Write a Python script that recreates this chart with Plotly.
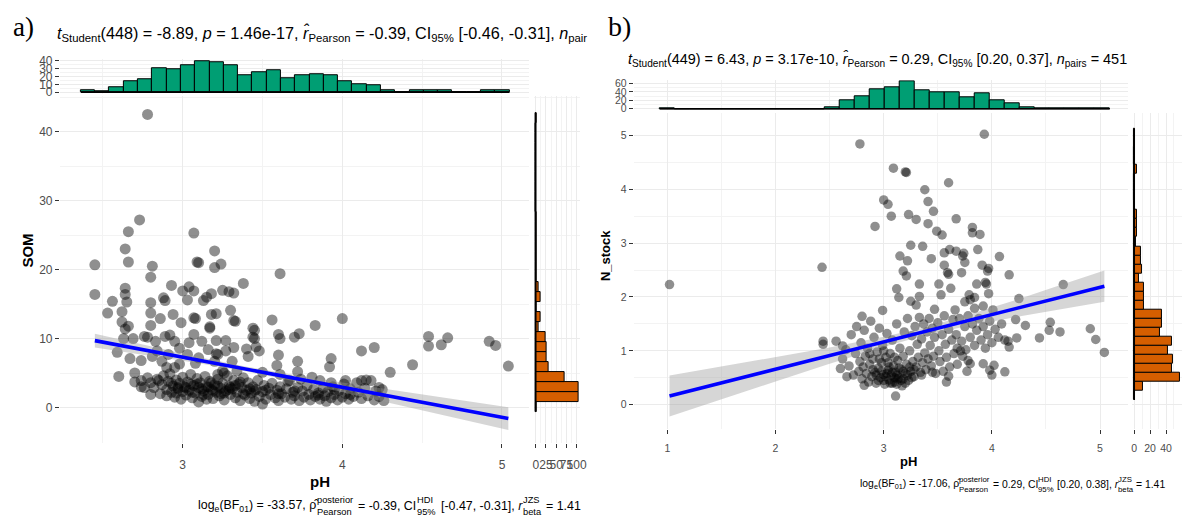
import plotly.graph_objects as go

W, H = 1191, 529
FONT = "Liberation Sans, Arial, sans-serif"
SERIF = "Liberation Serif, Times New Roman, serif"

# ---------------- panel a data (pH vs SOM) ----------------
A_POINTS = [
    (2.78, 42.5), (2.73, 27.2), (2.66, 25.5), (3.07, 25.3), (2.64, 23.0), (3.20, 22.7), (2.66, 21.1), (3.09, 21.1),
    (3.10, 21.0), (2.45, 20.7), (2.81, 20.5), (3.24, 20.8), (3.20, 20.3), (2.80, 18.9), (3.61, 19.4), (2.93, 17.7),
    (3.38, 18.0), (2.64, 17.3), (3.04, 17.5), (3.00, 16.9), (3.07, 16.9), (3.25, 17.0), (3.29, 16.8), (3.32, 16.6),
    (2.45, 16.4), (2.64, 16.4), (3.18, 16.5), (2.88, 15.9), (2.89, 15.5), (3.15, 16.0), (3.03, 15.6), (3.13, 15.5),
    (2.56, 15.4), (2.65, 15.3), (2.80, 15.2), (2.53, 13.7), (2.62, 13.9), (2.80, 13.7), (2.94, 13.5), (3.18, 13.5),
    (3.21, 13.6), (3.30, 14.1), (2.86, 12.9), (3.08, 12.9), (3.07, 13.0), (3.32, 12.6), (3.33, 12.5), (3.56, 12.7),
    (4.00, 12.9), (2.62, 12.4), (2.99, 12.3), (2.80, 11.9), (2.66, 11.8), (3.83, 11.9), (3.17, 11.5), (3.17, 11.7),
    (2.64, 11.4), (3.44, 11.5), (3.45, 11.2), (2.63, 10.0), (2.69, 10.0), (2.76, 10.3), (2.78, 10.2), (2.89, 10.3),
    (2.92, 10.5), (3.07, 10.6), (3.60, 10.6), (3.61, 10.0), (3.73, 10.7), (3.70, 10.2), (3.44, 10.2), (3.45, 10.0),
    (4.54, 10.3), (4.66, 10.1), (4.92, 9.6), (4.96, 9.0), (4.54, 8.9), (4.62, 9.1), (4.20, 8.7), (4.12, 8.2),
    (3.93, 7.1), (3.92, 5.9), (4.44, 6.2), (4.30, 5.1), (5.04, 6.0), (3.60, 7.6), (3.59, 6.1), (3.72, 6.7),
    (3.72, 5.2), (4.12, 3.9), (4.15, 4.0), (4.23, 2.9), (2.59, 8.0), (2.67, 7.1), (2.60, 4.5), (2.70, 5.0),
    (2.70, 3.7), (2.74, 3.9), (2.76, 2.9), (2.74, 6.8), (2.83, 9.6), (2.95, 9.6), (2.98, 8.6), (3.04, 9.4),
    (3.12, 9.6), (3.21, 9.7), (3.27, 9.7), (3.32, 8.7), (3.40, 8.5), (3.48, 8.2), (3.46, 8.8), (3.27, 8.2),
    (3.16, 8.4), (3.21, 7.8), (3.22, 7.7), (3.31, 6.7), (3.41, 7.4), (2.91, 7.7), (2.84, 8.2), (2.81, 7.4),
    (2.87, 6.7), (3.03, 7.7), (3.10, 7.2), (3.20, 6.7), (3.08, 6.4), (2.98, 6.3), (2.90, 5.8), (2.95, 5.8),
    (3.25, 5.3), (3.26, 5.0), (3.22, 4.8), (3.34, 5.3), (3.50, 5.1), (3.61, 4.8), (3.67, 3.9), (3.74, 4.1),
    (3.81, 4.4), (3.86, 3.9), (3.93, 3.6), (4.02, 3.9),
    # dense cluster
    (2.78, 4.3), (2.80, 3.6), (2.82, 2.9), (2.84, 4.1), (2.86, 2.0), (2.87, 3.3), (2.88, 4.6), (2.90, 1.7),
    (2.90, 2.6), (2.91, 3.8), (2.92, 4.9), (2.93, 2.2), (2.94, 3.1), (2.95, 1.5), (2.96, 4.0), (2.97, 2.7),
    (2.98, 3.5), (2.99, 1.2), (3.00, 2.3), (3.00, 4.4), (3.01, 3.0), (3.02, 1.8), (3.03, 3.7), (3.04, 2.5),
    (3.05, 4.8), (3.06, 1.4), (3.07, 3.2), (3.08, 2.1), (3.09, 4.2), (3.10, 0.8), (3.10, 2.9), (3.11, 3.6),
    (3.12, 1.6), (3.13, 2.4), (3.14, 4.5), (3.15, 3.0), (3.16, 1.9), (3.17, 3.8), (3.18, 2.6), (3.19, 1.3),
    (3.20, 3.3), (3.21, 2.2), (3.22, 4.1), (3.23, 1.7), (3.24, 2.8), (3.25, 3.5), (3.26, 1.1), (3.27, 2.4),
    (3.28, 4.6), (3.29, 3.1), (3.30, 1.9), (3.31, 2.7), (3.32, 3.9), (3.33, 1.4), (3.34, 2.2), (3.35, 3.4),
    (3.36, 1.0), (3.37, 2.9), (3.38, 4.3), (3.39, 1.8), (3.40, 2.5), (3.41, 3.6), (3.42, 1.3), (3.43, 2.1),
    (3.44, 3.0), (3.45, 0.9), (3.46, 2.6), (3.47, 3.9), (3.48, 1.6), (3.50, 0.5), (3.50, 2.3), (3.51, 3.2),
    (3.52, 1.2), (3.54, 2.8), (3.55, 1.9), (3.56, 3.5), (3.58, 1.4), (3.59, 2.5), (3.60, 1.0), (3.61, 3.0),
    (3.62, 2.0), (3.64, 1.5), (3.65, 2.7), (3.66, 3.8), (3.68, 1.2), (3.69, 2.2), (3.70, 1.7), (3.72, 2.9),
    (3.73, 1.0), (3.75, 2.4), (3.76, 1.5), (3.78, 3.2), (3.79, 1.9), (3.80, 1.1), (3.82, 2.6), (3.83, 1.6),
    (3.85, 2.1), (3.86, 1.2), (3.88, 2.8), (3.89, 1.7), (3.90, 0.9), (3.91, 2.3), (3.93, 1.4), (3.94, 3.0),
    (3.95, 1.9), (3.97, 1.1), (3.98, 2.5), (4.00, 1.5), (4.01, 3.4), (4.02, 2.0), (4.04, 1.2), (4.05, 2.7),
    (4.07, 1.6), (4.09, 3.6), (4.10, 2.2), (4.12, 1.3), (4.14, 2.8), (4.16, 1.7), (4.18, 3.9), (4.20, 1.1),
    (4.21, 2.4), (4.23, 1.6), (4.25, 2.6), (4.26, 1.0), (2.74, 3.0), (2.80, 1.9), (2.85, 3.9), (2.96, 2.1),
    (3.05, 3.4), (3.12, 2.7), (3.18, 3.6), (3.24, 2.0), (3.30, 2.9), (3.36, 3.7), (3.42, 2.7), (3.15, 1.2),
    (3.02, 2.9), (3.06, 2.2), (3.09, 3.4), (3.13, 1.9), (3.16, 3.0), (3.19, 2.4), (3.22, 3.1), (3.26, 2.1),
    (3.29, 2.6), (3.33, 3.2), (3.38, 2.0), (3.45, 2.4), (2.93, 3.5), (2.97, 2.9), (3.52, 2.5), (3.60, 2.0),
    (3.70, 2.4), (3.85, 1.8), (3.95, 2.6), (4.05, 1.9),
]
A_LINE_PH = [2.45, 5.04]
A_LINE_SOM = [9.7, -1.6]
A_CI_PH = [2.45, 2.8, 3.1, 3.4, 3.7, 4.0, 4.3, 4.6, 5.04]
A_CI_LO = [8.7, 7.48, 6.41, 5.21, 3.79, 2.25, 0.68, -0.91, -3.25]
A_CI_HI = [10.7, 8.86, 7.33, 5.91, 4.71, 3.63, 2.58, 1.55, 0.05]
A_PH_BIN_START, A_PH_BIN_WIDTH = 2.362, 0.0895
A_PH_COUNTS = [2, 1, 6, 14, 17, 30, 29, 34, 40, 38, 34, 22, 26, 28, 18,
               21, 23, 21, 14, 10, 9, 3, 0, 2, 3, 3, 0, 0, 2, 3]
A_SOM_BIN_START, A_SOM_BIN_WIDTH = -0.62, 1.446
A_SOM_COUNTS = [2, 104, 104, 70, 32, 26, 27, 24, 8, 13, 3, 12, 8, 2, 3,
                3, 2, 1, 1, 1, 0, 0, 0, 0, 0, 0, 0, 0, 0, 1]

# ---------------- panel b data (pH vs N_stock) ----------------
B_POINTS = [
    (1.02, 2.23), (2.43, 2.55), (2.78, 4.84), (3.93, 5.02), (3.09, 4.39), (3.20, 4.32), (3.21, 4.31), (3.60, 4.12),
    (3.38, 3.99), (3.00, 3.80), (3.04, 3.72), (3.41, 3.77), (3.46, 3.59), (3.07, 3.50), (3.23, 3.53), (3.30, 3.44),
    (3.67, 3.45), (2.92, 3.31), (3.41, 3.36), (3.49, 3.22), (3.54, 3.15), (3.82, 3.29), (3.82, 3.19), (3.89, 3.16),
    (3.87, 2.88), (3.25, 2.96), (3.36, 2.94), (3.15, 2.76), (3.22, 2.67), (3.44, 2.71), (3.56, 2.82), (3.61, 2.88),
    (3.67, 2.85), (3.74, 2.81), (3.75, 2.64), (3.73, 2.76), (4.07, 2.75), (3.56, 2.59), (3.59, 2.45), (3.60, 2.42),
    (3.72, 2.45), (3.91, 2.59), (3.97, 2.53), (3.96, 2.48), (3.18, 2.48), (3.21, 2.39), (4.16, 2.41), (3.33, 2.24),
    (3.51, 2.24), (3.62, 2.16), (3.86, 2.24), (3.94, 2.27), (3.95, 2.24), (4.66, 2.23), (3.12, 2.15), (3.53, 2.04),
    (3.33, 2.01), (3.14, 1.99), (3.79, 2.04), (3.84, 1.99), (3.97, 2.06), (4.25, 1.97), (3.25, 1.92), (3.30, 1.85),
    (3.75, 1.91), (3.80, 1.95), (3.66, 1.76), (3.84, 1.79), (3.92, 1.83), (4.01, 1.76), (3.47, 1.77), (2.99, 1.75),
    (4.54, 1.53), (4.53, 1.38), (4.63, 1.35), (4.91, 1.41), (4.96, 1.21), (5.04, 0.97), (4.44, 1.24), (4.31, 1.47),
    (4.22, 1.58), (4.23, 1.24), (4.15, 1.18), (4.16, 1.07), (4.12, 0.61), (4.02, 0.73), (3.92, 0.76), (3.98, 0.64),
    (4.00, 0.55), (3.80, 0.76), (3.78, 0.82), (3.77, 0.62), (3.68, 0.75), (3.60, 0.53), (3.58, 0.42), (3.71, 1.00),
    (2.44, 1.18), (2.44, 1.12), (2.56, 1.18), (2.62, 1.09), (2.60, 0.67), (2.66, 0.52), (2.80, 1.64), (3.11, 0.16),
    (2.82, 0.36),
    # dense cluster
    (2.62, 0.85), (2.65, 1.02), (2.68, 0.72), (2.70, 1.30), (2.72, 0.55), (2.74, 0.95), (2.75, 1.45), (2.77, 0.62),
    (2.78, 0.80), (2.79, 1.15), (2.80, 0.48), (2.81, 0.70), (2.82, 1.38), (2.83, 0.90), (2.84, 0.58), (2.85, 1.05),
    (2.86, 0.42), (2.87, 0.75), (2.88, 1.55), (2.89, 0.52), (2.90, 0.85), (2.91, 1.25), (2.92, 0.60), (2.93, 0.40),
    (2.94, 0.98), (2.95, 0.68), (2.96, 1.42), (2.97, 0.50), (2.98, 0.78), (2.99, 1.10), (3.00, 0.56), (3.01, 0.38),
    (3.02, 0.88), (3.03, 1.32), (3.04, 0.64), (3.05, 0.46), (3.06, 0.95), (3.07, 0.55), (3.08, 1.20), (3.09, 0.72),
    (3.10, 0.42), (3.11, 0.60), (3.12, 1.50), (3.13, 0.82), (3.14, 0.50), (3.15, 1.05), (3.16, 0.66), (3.17, 0.35),
    (3.18, 0.90), (3.19, 1.35), (3.20, 0.58), (3.21, 0.75), (3.22, 1.60), (3.23, 0.45), (3.24, 1.00), (3.25, 0.62),
    (3.26, 1.28), (3.27, 0.80), (3.28, 0.52), (3.29, 1.45), (3.30, 0.70), (3.31, 1.12), (3.32, 0.88), (3.33, 1.62),
    (3.34, 0.60), (3.35, 1.22), (3.36, 0.78), (3.37, 1.50), (3.38, 0.96), (3.39, 0.65), (3.40, 1.35), (3.41, 0.85),
    (3.42, 1.60), (3.43, 1.10), (3.44, 0.72), (3.45, 1.42), (3.46, 0.90), (3.47, 1.25), (3.48, 0.58), (3.50, 1.52),
    (3.51, 1.00), (3.52, 0.80), (3.54, 1.30), (3.55, 0.62), (3.56, 1.65), (3.57, 1.12), (3.58, 0.88), (3.60, 1.40),
    (3.61, 0.70), (3.63, 1.20), (3.64, 1.58), (3.65, 0.95), (3.67, 1.30), (3.68, 1.05), (3.70, 1.60), (3.72, 1.18),
    (3.73, 0.90), (3.75, 1.45), (3.76, 1.02), (3.78, 1.65), (3.80, 1.25), (3.82, 1.50), (3.84, 1.10), (3.86, 1.38),
    (3.88, 1.60), (3.90, 1.20), (3.92, 1.45), (3.94, 1.05), (3.96, 1.30), (3.98, 1.55), (4.00, 1.15), (4.03, 1.40),
    (4.06, 1.25), (4.09, 1.50), (4.12, 1.20), (2.95, 0.45), (3.05, 0.70), (3.12, 0.55), (3.18, 0.48), (3.08, 0.40),
    (2.98, 0.62), (3.00, 0.45), (3.02, 0.52), (3.04, 0.78), (3.06, 0.40), (3.08, 0.60), (3.10, 0.50), (3.12, 0.38),
    (3.14, 0.68), (3.16, 0.45), (3.18, 0.62), (3.20, 0.40), (3.22, 0.55), (3.24, 0.70), (3.13, 0.48), (3.03, 0.58),
    (2.93, 0.55), (2.90, 0.65), (3.26, 0.50), (3.28, 0.65), (2.96, 0.85), (3.10, 0.88), (3.35, 0.55), (3.45, 0.60),
    (2.87, 0.95), (3.00, 1.00),
]
B_LINE_PH = [1.02, 5.04]
B_LINE_N = [0.16, 2.20]
B_CI_PH = [1.02, 1.5, 2.0, 2.5, 3.0, 3.33, 3.7, 4.2, 4.6, 5.04]
B_CI_LO = [-0.22, 0.10, 0.43, 0.76, 1.07, 1.26, 1.43, 1.62, 1.76, 1.91]
B_CI_HI = [0.54, 0.71, 0.89, 1.06, 1.26, 1.41, 1.62, 1.93, 2.20, 2.49]
B_PH_BIN_START, B_PH_BIN_WIDTH = 0.93, 0.1387
B_PH_COUNTS = [1, 0, 0, 0, 0, 0, 0, 0, 0, 0, 0, 3, 19, 30, 46,
               50, 64, 44, 40, 38, 28, 37, 19, 14, 4, 1, 2, 1, 1, 1]
B_N_BIN_START, B_N_BIN_WIDTH = 0.086, 0.168
B_N_COUNTS = [1, 11, 57, 47, 49, 42, 48, 32, 35, 35, 12, 12, 12, 6, 10,
              8, 8, 2, 4, 4, 4, 1, 0, 0, 0, 3, 0, 0, 1, 1]

# ---------------- text ----------------
A_TITLE = ("<i>t</i><sub>Student</sub>(448) = -8.89, <i>p</i> = 1.46e-17, <i>r\u0302</i><sub>Pearson</sub> = -0.39, "
           "CI<sub>95%</sub> [-0.46, -0.31], <i>n</i><sub>pair</sub>")
B_TITLE = ("<i>t</i><sub>Student</sub>(449) = 6.43, <i>p</i> = 3.17e-10, <i>r\u0302</i><sub>Pearson</sub> = 0.29, "
           "CI<sub>95%</sub> [0.20, 0.37], <i>n</i><sub>pairs</sub> = 451")
# caption pieces: ("n", text) normal, ("b", text) inline subscript, ("s", sup, sub) stacked scripts
A_CAPTION = [("n", "log"), ("b", "e"), ("n", "(BF"), ("b", "01"), ("n", ") = -33.57, \u03c1\u0302"),
             ("s", "posterior", "Pearson"), ("n", " = -0.39, CI"), ("s", "HDI", "95%"),
             ("n", " [-0.47, -0.31], <i>r</i>"), ("s", "JZS", "beta"), ("n", " = 1.41")]
B_CAPTION = [("n", "log"), ("b", "e"), ("n", "(BF"), ("b", "01"), ("n", ") = -17.06, \u03c1\u0302"),
             ("s", "posterior", "Pearson"), ("n", " = 0.29, CI"), ("s", "HDI", "95%"),
             ("n", " [0.20, 0.38], <i>r</i>"), ("s", "JZS", "beta"), ("n", " = 1.41")]

# ---------------- styling ----------------
GRID = "#EBEBEB"
MINOR = "#F3F3F3"
TICKC = "#333333"
LABC = "#4D4D4D"
GREEN = "#009E73"
ORANGE = "#D55E00"

# Arial / Liberation Sans advance widths (per 1000 em), used only to lay out caption pieces
ADV = {" ": 278, "(": 333, ")": 333, "=": 584, "-": 333, ".": 278, ",": 278, "[": 278, "]": 278, "%": 889,
       "a": 556, "b": 556, "c": 500, "d": 556, "e": 556, "g": 556, "i": 222, "l": 222, "n": 556, "o": 556,
       "p": 556, "r": 333, "s": 500, "t": 278, "u": 556, "B": 667, "C": 722, "D": 722, "F": 611, "H": 722,
       "I": 278, "J": 500, "P": 667, "S": 667, "Z": 611, "\u03c1": 577, "\u0302": 0}


def em(s):
    s = s.replace("<i>", "").replace("</i>", "")
    return sum(ADV.get(c, 556) for c in s) / 1000.0


def px(x):
    return x / W


def py(y):
    return 1 - y / H


def axis(dom, rng, anchor, size, tickvals=None, ticktext=None, minor=None, labels=True, ticks=True, standoff=None):
    d = dict(domain=dom, range=rng, anchor=anchor, showgrid=True, gridcolor=GRID, gridwidth=1.1,
             zeroline=False, showline=False, fixedrange=True, tickangle=0,
             ticks="outside" if ticks else "", ticklen=4, tickwidth=1, tickcolor=TICKC,
             showticklabels=labels, tickfont=dict(family=FONT, size=size, color=LABC))
    if standoff is not None:
        d["ticklabelstandoff"] = standoff
    if tickvals is not None:
        d["tickmode"] = "array"
        d["tickvals"] = tickvals
        d["ticktext"] = ticktext if ticktext is not None else [str(v) for v in tickvals]
    if minor is not None:
        d["minor"] = dict(dtick=minor, showgrid=True, gridcolor=MINOR, gridwidth=0.8, ticks="")
    return d


fig = go.Figure()


def add_panel(pts, line_x, line_y, ci_x, ci_lo, ci_hi, xb0, xbw, xcounts, yb0, ybw, ycounts,
              xm, ym, xt, yt, xr, yr, msize):
    xs = [p[0] for p in pts]
    ys = [p[1] for p in pts]
    fig.add_trace(go.Scatter(x=xs, y=ys, mode="markers", xaxis=xm, yaxis=ym,
                             marker=dict(size=msize, color="rgba(0,0,0,0.44)", line=dict(width=0)),
                             showlegend=False, hoverinfo="skip"))
    fig.add_trace(go.Scatter(x=ci_x + ci_x[::-1], y=ci_hi + ci_lo[::-1], fill="toself",
                             fillcolor="rgba(153,153,153,0.40)", line=dict(width=0), mode="lines",
                             xaxis=xm, yaxis=ym, showlegend=False, hoverinfo="skip"))
    fig.add_trace(go.Scatter(x=line_x, y=line_y, mode="lines", line=dict(color="#0000FF", width=3.6),
                             xaxis=xm, yaxis=ym, showlegend=False, hoverinfo="skip"))
    # top histogram
    xc = [xb0 + xbw * (i + 0.5) for i in range(len(xcounts))]
    fig.add_trace(go.Scatter(x=[xb0, xb0 + xbw * len(xcounts)], y=[0, 0], mode="lines",
                             line=dict(color="black", width=1.6), xaxis=xt, yaxis=yt,
                             showlegend=False, hoverinfo="skip"))
    fig.add_trace(go.Bar(x=xc, y=xcounts, width=xbw, marker=dict(color=GREEN, line=dict(color="black", width=1)),
                         xaxis=xt, yaxis=yt, showlegend=False, hoverinfo="skip"))
    # right histogram
    yc = [yb0 + ybw * (i + 0.5) for i in range(len(ycounts))]
    fig.add_trace(go.Scatter(x=[0, 0], y=[yb0, yb0 + ybw * len(ycounts)], mode="lines",
                             line=dict(color="black", width=1.6), xaxis=xr, yaxis=yr,
                             showlegend=False, hoverinfo="skip"))
    fig.add_trace(go.Bar(y=yc, x=ycounts, width=ybw, orientation="h",
                         marker=dict(color=ORANGE, line=dict(color="black", width=1)),
                         xaxis=xr, yaxis=yr, showlegend=False, hoverinfo="skip"))


add_panel(A_POINTS, A_LINE_PH, A_LINE_SOM, A_CI_PH, A_CI_LO, A_CI_HI,
          A_PH_BIN_START, A_PH_BIN_WIDTH, A_PH_COUNTS, A_SOM_BIN_START, A_SOM_BIN_WIDTH, A_SOM_COUNTS,
          "x", "y", "x2", "y2", "x3", "y3", 11)
add_panel(B_POINTS, B_LINE_PH, B_LINE_N, B_CI_PH, B_CI_LO, B_CI_HI,
          B_PH_BIN_START, B_PH_BIN_WIDTH, B_PH_COUNTS, B_N_BIN_START, B_N_BIN_WIDTH, B_N_COUNTS,
          "x4", "y4", "x5", "y5", "x6", "y6", 9.5)

# panel a geometry
A_MAIN_X = [px(59.3), px(532)]
A_MAIN_Y = [py(447), py(93)]
A_XR = [2.231, 5.172]
A_YR = [-5.11, 45.17]
# panel b geometry
B_MAIN_X = [px(637), px(1135)]
B_MAIN_Y = [py(433), py(110)]
B_XR = [0.689, 5.262]
B_YR = [-0.451, 5.42]

layout = dict(
    width=W, height=H, margin=dict(l=0, r=0, t=0, b=0), paper_bgcolor="white", plot_bgcolor="white",
    bargap=0, showlegend=False,
    xaxis=axis(A_MAIN_X, A_XR, "y", 12, [3, 4, 5], minor=0.5, standoff=7),
    yaxis=axis(A_MAIN_Y, A_YR, "x", 12, [0, 10, 20, 30, 40], minor=5),
    xaxis2=axis(A_MAIN_X, A_XR, "y2", 12, [3, 4, 5], minor=0.5, labels=False, ticks=False),
    yaxis2=axis([py(90.6), py(55.4)], [-2, 42], "x2", 12, [0, 10, 20, 30, 40], minor=5),
    xaxis3=axis([px(536.2), px(583.3)], [-5.2, 109.2], "y3", 12, [0, 25, 50, 75, 100], minor=12.5, standoff=7),
    yaxis3=axis(A_MAIN_Y, A_YR, "x3", 12, [0, 10, 20, 30, 40], minor=5, labels=False, ticks=False),
    xaxis4=axis(B_MAIN_X, B_XR, "y4", 10.5, [1, 2, 3, 4, 5], minor=0.5, standoff=5),
    yaxis4=axis(B_MAIN_Y, B_YR, "x4", 10.5, [0, 1, 2, 3, 4, 5], minor=0.5),
    xaxis5=axis(B_MAIN_X, B_XR, "y5", 10.5, [1, 2, 3, 4, 5], minor=0.5, labels=False, ticks=False),
    yaxis5=axis([py(107.4), py(76.9)], [-3.2, 67.2], "x5", 10.5, [0, 20, 40, 60], minor=10),
    xaxis6=axis([px(1138.6), px(1188.8)], [-2.85, 59.85], "y6", 10.5, [0, 20, 40], minor=10, standoff=5),
    yaxis6=axis(B_MAIN_Y, B_YR, "x6", 10.5, [0, 1, 2, 3, 4, 5], minor=0.5, labels=False, ticks=False),
)
fig.update_layout(**layout)

ann = []


def text(x, y, s, size, anchor="left", family=FONT, color="black", angle=0, bold=False, yshift=0):
    ann.append(dict(x=px(x), y=py(y), xref="paper", yref="paper", text=("<b>%s</b>" % s) if bold else s,
                    showarrow=False, xanchor=anchor, yanchor="middle", textangle=angle, yshift=yshift,
                    borderpad=0, font=dict(family=family, size=size, color=color)))


# panel labels
text(22.5, 22, "a)", 27, anchor="center", family=SERIF)
text(623, 22, "b)", 28, anchor="center", family=SERIF)
# stats titles
text(55, 29, A_TITLE, 16.2)
text(630, 56, B_TITLE, 14.45)
# axis titles
text(321.6, 487, "pH", 15, anchor="center", bold=True)
text(27, 251, "SOM", 15, anchor="center", bold=True, angle=-90)
text(913.5, 466, "pH", 13, anchor="center", bold=True)
text(608.5, 256, "N_stock", 13, anchor="center", bold=True, angle=-90)


def caption(pieces, x0, x1, y, size):
    """Lay pieces out left to right from x0 so that the caption ends at x1."""
    script = size * 0.75
    runs = []
    cur = None
    for p in pieces:
        if p[0] == "s":
            if cur:
                runs.append(cur)
                cur = None
            runs.append(("s", p[1], p[2]))
        else:
            if cur is None:
                cur = ["n", "", 0.0]
            if p[0] == "n":
                cur[1] += p[1]
                cur[2] += em(p[1]) * size
            else:
                cur[1] += "<sub>%s</sub>" % p[1]
                cur[2] += em(p[1]) * size * 0.7
    if cur:
        runs.append(cur)
    widths = []
    for r in runs:
        if r[0] == "s":
            widths.append(max(em(r[1]), em(r[2])) * script)
        else:
            widths.append(r[2])
    gaps = len(runs) - 1
    extra = max(0.0, (x1 - x0) - sum(widths)) / gaps
    x = x0
    for r, w in zip(runs, widths):
        if r[0] == "s":
            text(x, y, r[1], script, yshift=size * 0.48)
            text(x, y, r[2], script, yshift=-size * 0.45)
        else:
            t = r[1]
            lead = 0.0
            while t.startswith(" "):
                lead += ADV[" "] / 1000.0 * size
                t = t[1:]
            text(x + lead, y, t, size)
        x += w + extra


caption(A_CAPTION, 197.0, 583.0, 512, 12.4)
caption(B_CAPTION, 864.0, 1171.0, 490, 10.4)

fig.update_layout(annotations=ann)
fig.write_html("out.html",
               post_script="document.body.style.margin='0';document.body.style.overflow='hidden';")
